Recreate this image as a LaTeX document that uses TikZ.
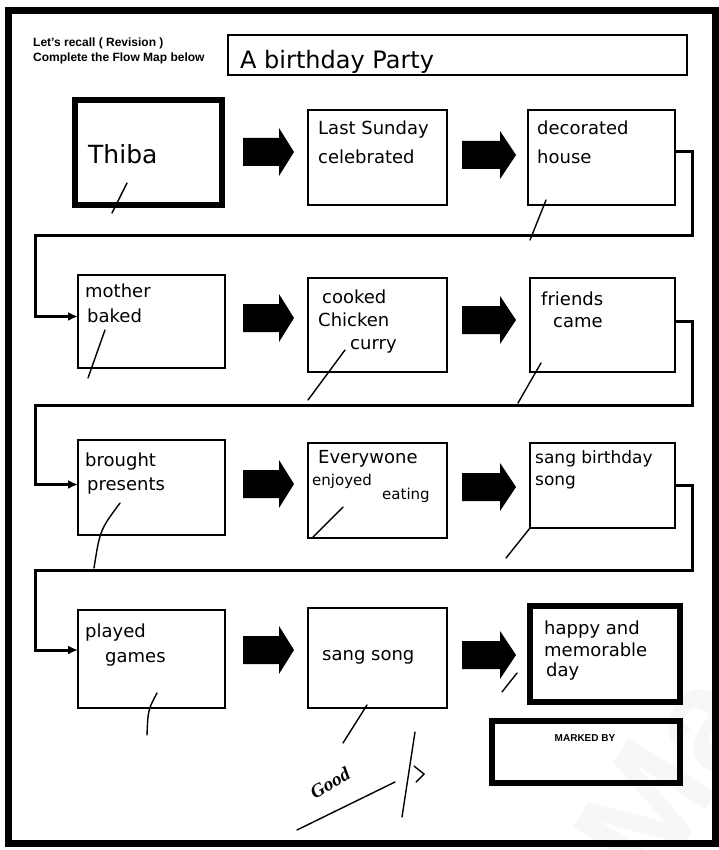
\documentclass[tikz,border=0pt]{standalone}
\usepackage{fontspec}
\setmainfont{Liberation Sans}
\newfontfamily\hand{DejaVu Sans}
\newfontfamily\sigfont{Liberation Serif}
\usetikzlibrary{arrows.meta}
\tikzset{
  box/.style={draw, line width=2.6pt, inner sep=0pt, outer sep=0pt, anchor=north west},
  thickbox/.style={box, line width=6pt},
  hw/.style={font=\hand\fontsize{18}{18}\selectfont, anchor=base west, inner sep=0pt},
  hws/.style={hw, font=\hand\fontsize{15}{15}\selectfont},
  conn/.style={line width=3pt},
  tip/.style={-{Latex[length=10pt,width=9pt]}},
  tickmark/.style={line width=1.4pt, line cap=round},
  hdr/.style={font=\bfseries\fontsize{12}{12}\selectfont, anchor=base west, inner sep=0pt},
}
\newcommand\barrow[4]{\fill (#1,#4-14) -- (#2,#4-14) -- (#2,#4-24) -- (#3,#4) -- (#2,#4+24) -- (#2,#4+14) -- (#1,#4+14) -- cycle;}
\begin{document}
\begin{tikzpicture}[x=1pt,y=-1pt]
\useasboundingbox (0,0) rectangle (719,850);
\fill[white] (0,0) rectangle (719,850);
% watermark
\node[text=gray!6, rotate=58, font=\bfseries\fontsize{150}{150}\selectfont] (wm) at (668,775) {Ma};
% frame
\draw[line width=7pt] (8.5,10.5) rectangle (715.5,843.5);
% header
\node[hdr] (h1) at (33,47) {Let's recall ( Revision )};
\node[hdr] (h2) at (33,62) {Complete the Flow Map below};
\node[box, line width=2.5pt, minimum width=459pt, minimum height=40pt] (title) at (228,35) {};
\node[hw, font=\hand\fontsize{24}{24}\selectfont] (ttl) at (240,69) {A birthday Party};
% boxes
\node[thickbox, minimum width=147pt, minimum height=105pt] (thiba) at (75,100) {};
\node[box, minimum width=139pt, minimum height=95pt] (last) at (308,110) {};
\node[box, minimum width=147pt, minimum height=95pt] (deco) at (528,110) {};
\node[box, minimum width=147pt, minimum height=93pt] (mother) at (78,275) {};
\node[box, minimum width=139pt, minimum height=94pt] (cooked) at (308,278) {};
\node[box, minimum width=145pt, minimum height=94pt] (friends) at (530,278) {};
\node[box, minimum width=147pt, minimum height=95pt] (brought) at (78,440) {};
\node[box, minimum width=139pt, minimum height=95pt] (every) at (308,443) {};
\node[box, minimum width=145pt, minimum height=85pt] (sangb) at (530,443) {};
\node[box, minimum width=147pt, minimum height=98pt] (played) at (78,610) {};
\node[box, minimum width=139pt, minimum height=100pt] (sangs) at (308,608) {};
\node[thickbox, minimum width=150pt, minimum height=96pt] (happy) at (530,606) {};
\node[thickbox, minimum width=188pt, minimum height=62pt] (marked) at (492,721) {};
\node[font=\bfseries\fontsize{10}{10}\selectfont, inner sep=0pt] (mk) at (585,738) {MARKED BY};
% texts
\node[hw, font=\hand\fontsize{25}{25}\selectfont] (t1) at (88,164) {Thiba};
\node[hw] (t2a) at (318,135) {Last Sunday};
\node[hw] (t2b) at (318,164) {celebrated};
\node[hw] (t3a) at (537,135) {decorated};
\node[hw] (t3b) at (537,164) {house};
\node[hw] (t4a) at (85,297) {mother};
\node[hw] (t4b) at (87,322) {baked};
\node[hw] (t5a) at (322,303) {cooked};
\node[hw] (t5b) at (318,326) {Chicken};
\node[hw] (t5c) at (350,349) {curry};
\node[hw] (t6a) at (541,305) {friends};
\node[hw] (t6b) at (553,327) {came};
\node[hw] (t7a) at (85,466) {brought};
\node[hw] (t7b) at (87,490) {presents};
\node[hw] (t8a) at (318,463) {Everywone};
\node[hws] (t8b) at (312,485) {enjoyed};
\node[hws] (t8c) at (382,499) {eating};
\node[hw, font=\hand\fontsize{17}{17}\selectfont] (t9a) at (535,463) {sang birthday};
\node[hw, font=\hand\fontsize{17}{17}\selectfont] (t9b) at (535,485) {song};
\node[hw] (t10a) at (85,637) {played};
\node[hw] (t10b) at (105,662) {games};
\node[hw] (t11) at (322,660) {sang song};
\node[hw] (t12a) at (544,634) {happy and};
\node[hw] (t12b) at (544,656) {memorable};
\node[hw] (t12c) at (546,676) {day};
% block arrows
\barrow{243}{279}{294}{152}
\barrow{462}{500}{516}{155}
\barrow{243}{279}{294}{318}
\barrow{462}{500}{516}{320}
\barrow{243}{279}{294}{484}
\barrow{462}{500}{516}{487}
\barrow{243}{279}{294}{650}
\barrow{462}{500}{516}{655}
% connectors between rows
\draw[conn, tip] ([yshift=6pt]deco.east) -| (692,235) -- (35,235) |- ([yshift=5pt]mother.west);
\draw[conn, tip] ([yshift=4pt]friends.east) -| (692,405) -- (35,405) |- ([yshift=3pt]brought.west);
\draw[conn, tip] (sangb.east) -| (692,570) -- (35,570) |- ([yshift=9pt]played.west);
% tick marks
\draw[tickmark] (127,183) -- (112,213);
\draw[tickmark] (546,200) -- (530,240);
\draw[tickmark] (105,330) -- (88,378);
\draw[tickmark] (345,350) -- (308,400);
\draw[tickmark] (541,363) -- (518,403);
\draw[tickmark] (120,503) .. controls (100,530) .. (94,568);
\draw[tickmark] (343,507) -- (312,538);
\draw[tickmark] (530,528) -- (506,558);
\draw[tickmark] (157,693) .. controls (148,710) .. (147,735);
\draw[tickmark] (367,705) -- (343,743);
\draw[tickmark] (517,673) -- (502,692);
% signature
\node[font=\sigfont\itshape\bfseries\fontsize{19}{19}\selectfont, rotate=30, inner sep=0pt] (sig) at (330,783) {Good};
\draw[tickmark] (297,830) -- (395,782);
\draw[tickmark] (415,732) -- (402,817);
\draw[tickmark] (414,766) -- (424,774) -- (416,782);
\end{tikzpicture}
\end{document}
